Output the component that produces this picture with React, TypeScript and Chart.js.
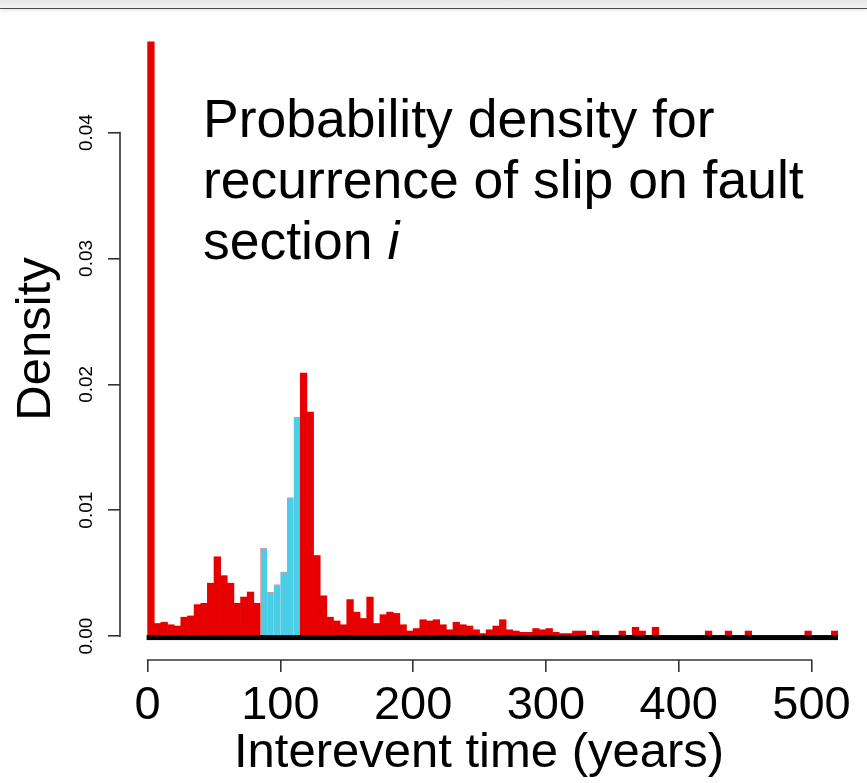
import React, { useEffect, useRef } from 'react';
import { Chart, registerables } from 'chart.js';

Chart.register(...registerables);

// ---------------- data ----------------
const binStart = 0;
const binWidth = 5;
// density per 5-year bin, 0–520 years
const densities: number[] = [
  0.0472, 0.0010, 0.0011, 0.0009, 0.0008, 0.0015, 0.0016, 0.0025, 0.0026, 0.0042,
  0.0063, 0.0048, 0.0042, 0.0026, 0.0031, 0.0035, 0.0026, 0.0070, 0.0035, 0.0041,
  0.0051, 0.0110, 0.0174, 0.0209, 0.0178, 0.0064, 0.0032, 0.0015, 0.0012, 0.0009,
  0.0029, 0.0019, 0.0014, 0.0031, 0.0010, 0.0017, 0.0019, 0.0018, 0.0009, 0.0004,
  0.0006, 0.0013, 0.0012, 0.0013, 0.0009, 0.0005, 0.0011, 0.0009, 0.0008, 0.0005,
  0.0002, 0.0005, 0.0008, 0.0013, 0.0005, 0.0004, 0.0003, 0.0003, 0.0006, 0.0005,
  0.0006, 0.0003, 0.0002, 0.0002, 0.0004, 0.0004, 0, 0.0004, 0, 0,
  0, 0.0004, 0, 0.0007, 0.0004, 0, 0.0007, 0, 0, 0,
  0, 0, 0, 0, 0.0004, 0, 0, 0.0004, 0, 0,
  0.0004, 0, 0, 0, 0, 0, 0, 0, 0, 0.0004,
  0, 0, 0, 0.0004,
];
const highlightFrom = 85; // years, start of highlighted (blue) bins
const highlightTo = 115; // years, end of highlighted bins

const xTicks = [0, 100, 200, 300, 400, 500];
const xTickLabels = ['0', '100', '200', '300', '400', '500'];
const yTicks = [0, 0.01, 0.02, 0.03, 0.04];
const yTickLabels = ['0.00', '0.01', '0.02', '0.03', '0.04'];

const xTitle = 'Interevent time (years)';
const yTitle = 'Density';
const noteLines = ['Probability density for', 'recurrence of slip on fault'];
const noteLastPrefix = 'section ';
const noteLastItalic = 'i';

// ---------------- styles ----------------
const RED = '#e60000';
const BLUE = '#4ccde6';
const BLUE_EDGE = '#f08c8c';
const AXIS = '#333333';
const FONT = "'Liberation Sans', Arial, Helvetica, sans-serif";

const rAxesPlugin = {
  id: 'rAxes',
  afterDatasetsDraw(chart: any) {
    const { ctx, scales } = chart;
    const x = scales.x;
    const y = scales.y;
    const y0 = y.getPixelForValue(0);
    const xa = x.getPixelForValue(binStart);
    const xb = x.getPixelForValue(binStart + binWidth * densities.length);
    ctx.save();
    ctx.fillStyle = '#000';
    ctx.fillRect(xa - 1, y0 - 1, xb - xa + 1, 5);
    ctx.restore();
  },
  afterDraw(chart: any) {
    const { ctx, chartArea, scales } = chart;
    const x = scales.x;
    const y = scales.y;
    ctx.save();
    ctx.strokeStyle = AXIS;
    ctx.lineWidth = 1.6;
    ctx.beginPath();
    const lx = chartArea.left;
    ctx.moveTo(lx, y.getPixelForValue(yTicks[0]) + 0.8);
    ctx.lineTo(lx, y.getPixelForValue(yTicks[yTicks.length - 1]) - 0.8);
    const by = chartArea.bottom;
    ctx.moveTo(x.getPixelForValue(xTicks[0]) - 0.8, by);
    ctx.lineTo(x.getPixelForValue(xTicks[xTicks.length - 1]) + 0.8, by);
    ctx.stroke();
    ctx.restore();
  },
};

export default function App() {
  const canvasRef = useRef<HTMLCanvasElement>(null);

  useEffect(() => {
    const canvas = canvasRef.current;
    if (!canvas) return;

    const barData = densities.map((d, i) => ({ x: binStart + binWidth * (i + 0.5), y: d }));
    const centre = (i: number) => binStart + binWidth * (i + 0.5);
    const isHi = (i: number) => centre(i) > highlightFrom && centre(i) < highlightTo;
    const firstHi = densities.findIndex((_, i) => isHi(i));
    let lastHi = firstHi;
    densities.forEach((_, i) => {
      if (isHi(i)) lastHi = i;
    });
    const bg = densities.map((_, i) => (isHi(i) ? BLUE : RED));
    const bc = densities.map((_, i) => (isHi(i) ? BLUE_EDGE : RED));
    const bw = densities.map((_, i) =>
      isHi(i)
        ? { top: 1, bottom: 0, left: i === firstHi ? 1 : 0, right: i === lastHi ? 1 : 0 }
        : 0
    );

    const chart = new Chart(canvas, {
      type: 'bar',
      data: {
        datasets: [
          {
            type: 'bar',
            data: barData as any,
            backgroundColor: bg,
            borderColor: bc,
            borderWidth: bw,
            borderSkipped: false,
            barPercentage: 1,
            categoryPercentage: 1,
            order: 1,
          } as any,
        ],
      },
      options: {
        responsive: false,
        devicePixelRatio: 1,
        animation: false,
        events: [],
        layout: { padding: { top: 18, right: 29, left: 0, bottom: 0 } },
        plugins: { legend: { display: false }, tooltip: { enabled: false } },
        scales: {
          x: {
            type: 'linear',
            min: -20.8,
            max: 520,
            offset: false,
            bounds: 'data',
            afterBuildTicks: (s: any) => {
              s.ticks = xTicks.map((v) => ({ value: v }));
            },
            afterFit: (s: any) => {
              s.height = 123;
              s.paddingLeft = 0;
              s.paddingRight = 0;
            },
            grid: {
              display: true,
              offset: false,
              drawOnChartArea: false,
              drawTicks: true,
              tickLength: 12,
              color: AXIS,
              lineWidth: 1.6,
            },
            border: { display: false },
            ticks: {
              autoSkip: false,
              minRotation: 0,
              maxRotation: 0,
              padding: 6,
              color: '#000',
              font: { family: FONT, size: 47 },
              callback: (_v: any, i: number) => xTickLabels[i],
            },
            title: {
              display: true,
              text: xTitle,
              color: '#000',
              font: { family: FONT, size: 49 },
              padding: { top: 0, bottom: 0 },
            },
          },
          y: {
            type: 'linear',
            min: -0.0019,
            max: 0.0491,
            bounds: 'data',
            afterBuildTicks: (s: any) => {
              s.ticks = yTicks.map((v) => ({ value: v }));
            },
            afterFit: (s: any) => {
              s.width = 120;
              s.paddingTop = 0;
              s.paddingBottom = 0;
            },
            grid: {
              display: true,
              drawOnChartArea: false,
              drawTicks: true,
              tickLength: 12,
              color: AXIS,
              lineWidth: 1.6,
            },
            border: { display: false },
            ticks: {
              autoSkip: false,
              minRotation: 90,
              maxRotation: 90,
              crossAlign: 'center',
              padding: 3,
              color: '#000',
              font: { family: FONT, size: 19 },
              callback: (_v: any, i: number) => yTickLabels[i],
            },
            title: {
              display: true,
              text: yTitle,
              color: '#000',
              font: { family: FONT, size: 49 },
              padding: { top: 7, bottom: 0 },
            },
          },
        },
      },
      plugins: [rAxesPlugin],
    } as any);

    return () => chart.destroy();
  }, []);

  return (
    <div
      style={{
        position: 'absolute',
        left: 0,
        top: 0,
        width: 867,
        height: 783,
        background: '#fff',
        overflow: 'hidden',
      }}
    >
      <canvas
        ref={canvasRef}
        width={867}
        height={783}
        style={{ position: 'absolute', left: 0, top: 0, width: 867, height: 783 }}
      />
      <div
        style={{
          position: 'absolute',
          left: 0,
          top: 0,
          width: 867,
          height: 8,
          background: 'linear-gradient(#e6e6e6, #f4f4f4)',
          borderBottom: '1.5px solid #4a4a4a',
          boxShadow: '0 1px 4px rgba(0,0,0,0.12)',
        }}
      />
      <div
        style={{
          position: 'absolute',
          left: 203,
          top: 88,
          fontFamily: FONT,
          fontSize: 53.5,
          lineHeight: '61px',
          color: '#000',
          whiteSpace: 'nowrap',
        }}
      >
        {noteLines.map((l) => (
          <div key={l}>{l}</div>
        ))}
        <div>
          {noteLastPrefix}
          <i>{noteLastItalic}</i>
        </div>
      </div>
    </div>
  );
}
